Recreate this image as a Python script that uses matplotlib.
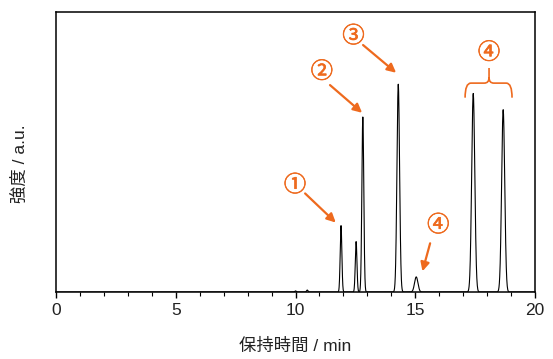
import numpy as np
import matplotlib
matplotlib.use("Agg")
import matplotlib.pyplot as plt
import matplotlib.patheffects as pe
from matplotlib.path import Path
from matplotlib.patches import PathPatch

plt.rcParams['font.family'] = ['Liberation Sans', 'Noto Sans CJK JP']

# peak table (retention time / min, height / a.u., width sigma / min)
peak_t = [10.00, 10.49, 11.90, 12.53, 12.81, 14.29, 15.04, 17.42, 18.67]
peak_h = [0.4, 0.7, 23.7, 18.0, 62.5, 74.2, 5.4, 70.9, 65.1]
peak_w = [0.03, 0.03, 0.035, 0.035, 0.04, 0.055, 0.07, 0.065, 0.065]

x_ticks = [0, 5, 10, 15, 20]
labels = ['①', '②', '③', '④', '④']

orange = '#EE6A1E'

t = np.linspace(0, 20, 4001)
y = np.zeros_like(t)
for c, h, w in zip(peak_t, peak_h, peak_w):
    y = y + h * np.exp(-0.5 * ((t - c) / w) ** 2)

fig = plt.figure(figsize=(5.53, 3.59), dpi=100)
ax = fig.add_axes([0.1013, 0.1866, 0.8662, 0.7800])
ax.plot(t, y, color='black', lw=0.8)
ax.set_xlim(0, 20)
ax.set_ylim(0, 100)
ax.set_xticks(x_ticks)
ax.set_xticks(np.arange(0, 21, 1), minor=True)
ax.set_yticks([])
ax.tick_params(axis='x', which='major', direction='out', length=4, width=1, labelsize=12.5,
               colors='black', labelcolor='#222222', pad=4)
ax.tick_params(axis='x', which='minor', direction='out', length=3, width=0.8)
for s in ax.spines.values():
    s.set_linewidth(1.1)

ax.set_xlabel('保持時間 / min', fontsize=12.5, labelpad=14, color='#222222')
ax.set_ylabel('強度 / a.u.', fontsize=12.5, color='#222222')
ax.yaxis.set_label_coords(-0.058, 0.46)

# circled numbers and arrows (axes fraction)
txt_pos = [(0.499, 0.382), (0.555, 0.787), (0.621, 0.914), (0.798, 0.239), (0.904, 0.855)]
arr_from = [(0.520, 0.352), (0.572, 0.739), (0.641, 0.882), (0.781, 0.174), None]
arr_to = [(0.584, 0.248), (0.639, 0.640), (0.710, 0.783), (0.765, 0.074), None]
for lab, p, a, b in zip(labels, txt_pos, arr_from, arr_to):
    ax.text(p[0], p[1], lab, transform=ax.transAxes, color=orange, fontsize=16,
            ha='center', va='center', family=['Noto Sans CJK JP'],
            path_effects=[pe.withStroke(linewidth=0.45, foreground=orange)])
    if a is not None:
        ax.annotate('', xy=b, xytext=a, xycoords='axes fraction', textcoords='axes fraction',
                    arrowprops=dict(arrowstyle='-|>', color=orange, lw=1.6, mutation_scale=13,
                                    shrinkA=0, shrinkB=0))

# curly bracket over the two last peaks
xl, xr, xc = 0.854, 0.952, 0.904
yb, yh, yt = 0.694, 0.746, 0.800
verts = [(xl, yb), (xl, yh), (xl + 0.012, yh),
         (xc - 0.010, yh), (xc, yh), (xc, yh + 0.020),
         (xc, yt),
         (xc, yh + 0.020), (xc, yh), (xc + 0.010, yh),
         (xr - 0.012, yh), (xr, yh), (xr, yb)]
codes = [Path.MOVETO, Path.CURVE3, Path.CURVE3,
         Path.LINETO, Path.CURVE3, Path.CURVE3,
         Path.LINETO,
         Path.MOVETO, Path.CURVE3, Path.CURVE3,
         Path.LINETO, Path.CURVE3, Path.CURVE3]
ax.add_patch(PathPatch(Path(verts, codes), transform=ax.transAxes, fill=False,
                       edgecolor=orange, lw=1.2))

fig.savefig('out.png', dpi=100)
